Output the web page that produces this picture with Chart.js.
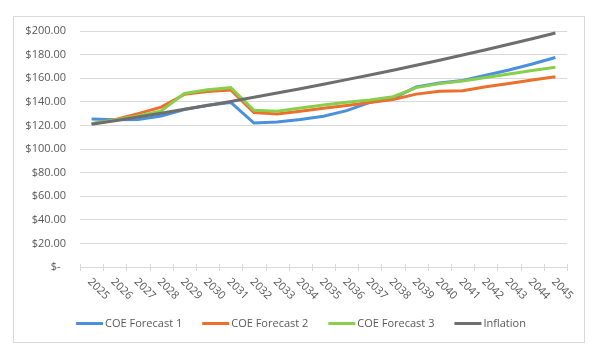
<!DOCTYPE html>
<html>
<head>
<meta charset="utf-8">
<script src="https://cdn.jsdelivr.net/npm/chart.js@4/dist/chart.umd.min.js"></script>
<style>
  html, body { margin: 0; padding: 0; background: #ffffff; }
  #wrap { position: relative; width: 598px; height: 358px; }
</style>
</head>
<body>
<div id="wrap"><canvas id="c" width="598" height="358"></canvas></div>
<script>
const years = ['2025','2026','2027','2028','2029','2030','2031','2032','2033','2034','2035','2036','2037','2038','2039','2040','2041','2042','2043','2044','2045'];
const forecast1 = [125.4, 124.8, 125.0, 128.0, 133.5, 137.0, 139.5, 122.0, 122.8, 125.0, 127.8, 132.5, 139.5, 143.0, 152.5, 156.0, 158.0, 162.5, 167.0, 172.0, 177.5];
const forecast2 = [121.5, 124.8, 130.0, 135.5, 146.3, 148.8, 150.0, 131.0, 129.7, 132.0, 134.5, 136.8, 139.5, 142.0, 146.5, 149.0, 149.4, 152.7, 155.6, 158.5, 161.3];
const forecast3 = [121.5, 124.5, 128.0, 132.3, 147.0, 150.2, 152.0, 132.8, 132.0, 134.8, 137.3, 139.6, 141.6, 144.3, 152.0, 155.4, 157.6, 160.6, 163.6, 166.6, 169.3];
const inflation = [121.0, 124.0, 127.1, 130.3, 133.6, 136.9, 140.3, 143.8, 147.4, 151.1, 154.9, 158.8, 162.7, 166.8, 171.0, 175.2, 179.6, 184.1, 188.7, 193.4, 198.3];
const seriesNames = ['COE Forecast 1', 'COE Forecast 2', 'COE Forecast 3', 'Inflation'];
const seriesColors = ['#4A90DA', '#EC6F2E', '#89CF4C', '#6E6E6E'];

const FONT = '"Open Sans", "Liberation Sans", sans-serif';
const TEXT = '#595959';
const GRID = '#d9d9d9';

const decor = {
  id: 'decor',
  beforeDraw(chart) {
    const ctx = chart.ctx;
    ctx.save();
    ctx.fillStyle = '#ffffff';
    ctx.fillRect(0, 0, chart.width, chart.height);
    ctx.strokeStyle = GRID;
    ctx.lineWidth = 1;
    ctx.strokeRect(13.5, 16.5, 571, 326);
    ctx.restore();
  },
  afterDraw(chart) {
    const ctx = chart.ctx;
    const xs = chart.scales.x;
    const area = chart.chartArea;
    ctx.save();
    // tick marks crossing the axis at category boundaries
    ctx.strokeStyle = GRID;
    ctx.lineWidth = 1;
    const n = chart.data.labels.length;
    const step = n > 1 ? xs.getPixelForValue(1) - xs.getPixelForValue(0) : 0;
    ctx.beginPath();
    for (let i = 0; i <= n; i++) {
      const px = Math.round(xs.getPixelForValue(0) - step / 2 + i * step) + 0.5;
      ctx.moveTo(px, area.bottom - 3);
      ctx.lineTo(px, area.bottom + 4);
    }
    ctx.stroke();
    // rotated category labels (clockwise 45deg)
    ctx.fillStyle = TEXT;
    ctx.font = '11px ' + FONT;
    ctx.textAlign = 'left';
    ctx.textBaseline = 'middle';
    chart.data.labels.forEach((lab, i) => {
      const px = xs.getPixelForValue(i);
      ctx.save();
      ctx.translate(px - 2, area.bottom + 13);
      ctx.rotate(Math.PI / 4);
      ctx.fillText(lab, 0, 0);
      ctx.restore();
    });
    // legend
    const lineLen = 27, gapTxt = 2, gapItem = 20;
    const items = chart.data.datasets.map(d => ({ label: d.label, color: d.borderColor, w: ctx.measureText(d.label).width }));
    const total = items.reduce((s, it) => s + lineLen + gapTxt + it.w, 0) + gapItem * (items.length - 1);
    let x = 301 - total / 2;
    const y = 323.5;
    items.forEach(it => {
      ctx.strokeStyle = it.color;
      ctx.lineWidth = 3;
      ctx.beginPath();
      ctx.moveTo(x, y);
      ctx.lineTo(x + lineLen, y);
      ctx.stroke();
      ctx.fillStyle = TEXT;
      ctx.fillText(it.label, x + lineLen + gapTxt, y);
      x += lineLen + gapTxt + it.w + gapItem;
    });
    ctx.restore();
  }
};

const seriesData = [forecast1, forecast2, forecast3, inflation];
const datasets = seriesData.map((d, i) => ({
  label: seriesNames[i],
  data: d,
  borderColor: seriesColors[i],
  backgroundColor: seriesColors[i],
  borderWidth: 3,
  pointRadius: 0,
  pointHoverRadius: 0,
  tension: 0,
  fill: false,
  order: seriesData.length - i
}));

new Chart(document.getElementById('c'), {
  type: 'line',
  data: { labels: years, datasets },
  plugins: [decor],
  options: {
    responsive: false,
    animation: false,
    events: [],
    layout: { padding: { top: 31, right: 31, bottom: 0, left: 0 } },
    plugins: { legend: { display: false }, tooltip: { enabled: false } },
    scales: {
      x: {
        offset: true,
        grid: { display: false, offset: true },
        border: { display: true, color: GRID, width: 1 },
        ticks: { display: false },
        afterFit(s) { s.height = 91; }
      },
      y: {
        min: 0,
        max: 200,
        grid: { color: GRID, lineWidth: 1, drawTicks: false },
        border: { display: false },
        ticks: {
          stepSize: 20,
          padding: 14,
          color: TEXT,
          font: { family: FONT, size: 11 },
          callback: v => v === 0 ? '$-\u2002' : '$' + Number(v).toFixed(2)
        },
        afterFit(s) { s.width = 80; }
      }
    }
  }
});
</script>
</body>
</html>
